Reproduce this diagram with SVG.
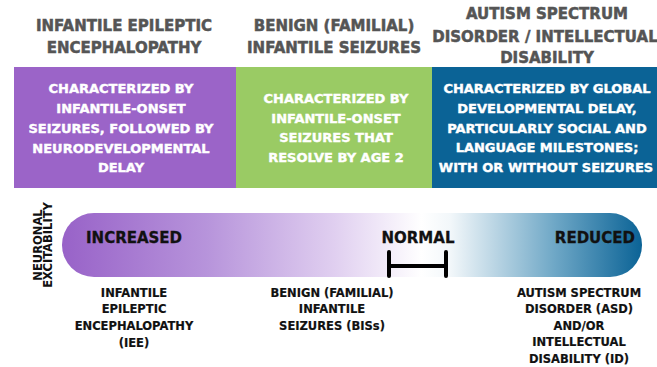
<svg xmlns="http://www.w3.org/2000/svg" width="657" height="367" viewBox="0 0 657 367">
  <defs>
    <style>
      .head { font-family: "DejaVu Sans", "Liberation Sans", sans-serif; font-weight: bold; font-size: 15px; fill: #555555; stroke: #555555; stroke-width: 0.5; text-anchor: middle; }
      .desc { font-family: "DejaVu Sans", "Liberation Sans", sans-serif; font-weight: bold; font-size: 13px; fill: #ffffff; stroke: #ffffff; stroke-width: 0.4; text-anchor: middle; }
      .scale { font-family: "DejaVu Sans", "Liberation Sans", sans-serif; font-weight: bold; font-size: 15px; fill: #111111; stroke: #111111; stroke-width: 0.3; }
      .axis { font-family: "DejaVu Sans", "Liberation Sans", sans-serif; font-weight: bold; font-size: 11.5px; fill: #111111; text-anchor: middle; }
      .lbl { font-family: "DejaVu Sans", "Liberation Sans", sans-serif; font-weight: bold; font-size: 11.5px; fill: #111111; stroke: #111111; stroke-width: 0.2; text-anchor: middle; }
      .bracket { stroke: #000000; stroke-width: 4; stroke-linecap: round; fill: none; }
    </style>
    <linearGradient id="excitability" gradientUnits="userSpaceOnUse" x1="62" y1="0" x2="642" y2="0">
      <stop offset="0" stop-color="#9862c8"/>
      <stop offset="0.25" stop-color="#b794db"/>
      <stop offset="0.47" stop-color="#e0cff0"/>
      <stop offset="0.62" stop-color="#ffffff"/>
      <stop offset="0.67" stop-color="#f2f7fa"/>
      <stop offset="0.85" stop-color="#6ea7c6"/>
      <stop offset="1" stop-color="#0b6396"/>
    </linearGradient>
  </defs>

  <rect width="657" height="367" fill="#ffffff"/>

  <!-- Column: infantile epileptic encephalopathy -->
  <g id="iee-column">
    <text class="head" x="124" y="31">INFANTILE EPILEPTIC</text>
    <text class="head" x="124" y="53">ENCEPHALOPATHY</text>
    <rect x="14" y="67" width="222" height="121" fill="#9b64c8"/>
    <text class="desc" x="121" y="93">CHARACTERIZED BY</text>
    <text class="desc" x="121" y="113">INFANTILE-ONSET</text>
    <text class="desc" x="121" y="133">SEIZURES, FOLLOWED BY</text>
    <text class="desc" x="121" y="153">NEURODEVELOPMENTAL</text>
    <text class="desc" x="121" y="172">DELAY</text>
  </g>

  <!-- Column: benign (familial) infantile seizures -->
  <g id="bis-column">
    <text class="head" x="334" y="31">BENIGN (FAMILIAL)</text>
    <text class="head" x="334" y="53">INFANTILE SEIZURES</text>
    <rect x="236" y="67" width="196" height="121" fill="#9acb64"/>
    <text class="desc" x="336" y="103">CHARACTERIZED BY</text>
    <text class="desc" x="336" y="123">INFANTILE-ONSET</text>
    <text class="desc" x="336" y="142">SEIZURES THAT</text>
    <text class="desc" x="336" y="162">RESOLVE BY AGE 2</text>
  </g>

  <!-- Column: autism spectrum disorder / intellectual disability -->
  <g id="asd-column">
    <text class="head" x="547" y="19">AUTISM SPECTRUM</text>
    <text class="head" x="545" y="42">DISORDER / INTELLECTUAL</text>
    <text class="head" x="547" y="63">DISABILITY</text>
    <rect x="432" y="67" width="225" height="121" fill="#0b6396"/>
    <text class="desc" x="547" y="93">CHARACTERIZED BY GLOBAL</text>
    <text class="desc" x="547" y="113">DEVELOPMENTAL DELAY,</text>
    <text class="desc" x="547" y="133">PARTICULARLY SOCIAL AND</text>
    <text class="desc" x="547" y="152">LANGUAGE MILESTONES;</text>
    <text class="desc" x="546" y="172">WITH OR WITHOUT SEIZURES</text>
  </g>

  <!-- Excitability scale -->
  <g id="scale">
    <text class="axis" transform="translate(42 245) rotate(-90)">NEURONAL</text>
    <text class="axis" transform="translate(52 245) rotate(-90)">EXCITABILITY</text>
    <rect x="62" y="213" width="580" height="64" rx="32" ry="32" fill="url(#excitability)"/>
    <text class="scale" x="86" y="243">INCREASED</text>
    <text class="scale" x="418" y="243" text-anchor="middle">NORMAL</text>
    <text class="scale" x="635" y="243" text-anchor="end">REDUCED</text>
  </g>

  <!-- Normal range bracket -->
  <g id="connectors">
    <path class="bracket" d="M389 252 V276 M446 252 V276 M389 266 H446"/>
  </g>

  <!-- Condition labels below the scale -->
  <g id="iee-label">
    <text class="lbl" x="134" y="297">INFANTILE</text>
    <text class="lbl" x="134" y="313">EPILEPTIC</text>
    <text class="lbl" x="134" y="330">ENCEPHALOPATHY</text>
    <text class="lbl" x="134" y="347">(IEE)</text>
  </g>
  <g id="bis-label">
    <text class="lbl" x="332" y="297">BENIGN (FAMILIAL)</text>
    <text class="lbl" x="332" y="313">INFANTILE</text>
    <text class="lbl" x="332" y="330">SEIZURES (BISs)</text>
  </g>
  <g id="asd-label">
    <text class="lbl" x="579" y="297">AUTISM SPECTRUM</text>
    <text class="lbl" x="579" y="313">DISORDER (ASD)</text>
    <text class="lbl" x="579" y="330">AND/OR</text>
    <text class="lbl" x="579" y="346">INTELLECTUAL</text>
    <text class="lbl" x="579" y="363">DISABILITY (ID)</text>
  </g>
</svg>
